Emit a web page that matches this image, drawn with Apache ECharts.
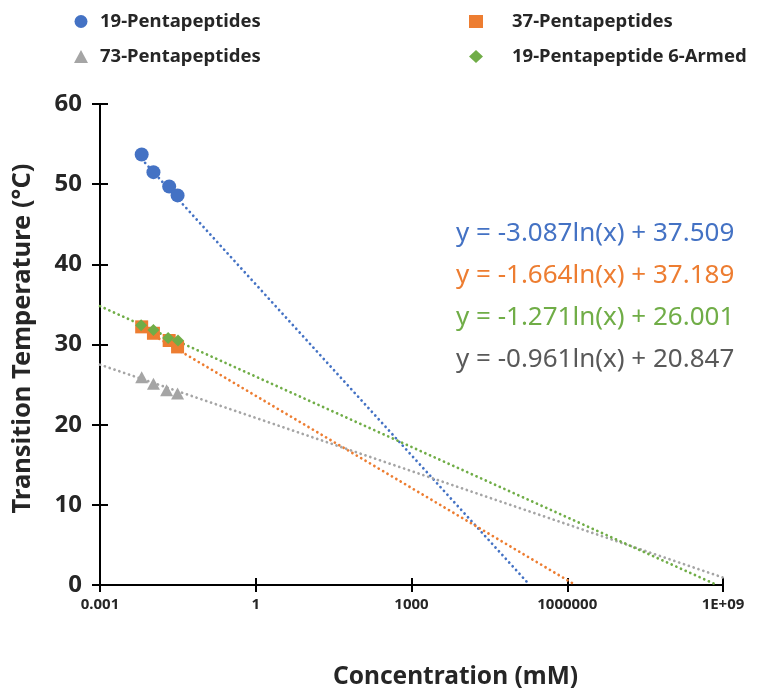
<!DOCTYPE html>
<html>
<head>
<meta charset="utf-8">
<script src="https://cdn.jsdelivr.net/npm/echarts@6/dist/echarts.min.js"></script>
<style>
  html, body { margin: 0; padding: 0; background: #fff; }
  #chart { width: 774px; height: 690px; }
</style>
</head>
<body>
<div id="chart"></div>
<script>
// Measured transition temperatures (°C) against concentration (mM)
const seriesNames = ['19-Pentapeptides', '37-Pentapeptides', '73-Pentapeptides', '19-Pentapeptide 6-Armed'];
const colors = ['#4472C4', '#ED7D31', '#A5A5A5', '#70AD47'];
const symbols = ['circle', 'rect', 'triangle', 'diamond'];

const conc19 = [0.00635, 0.0107, 0.0215, 0.0312];
const temp19 = [53.7, 51.5, 49.7, 48.6];

const conc37 = [0.00635, 0.0107, 0.0215, 0.0312];
const temp37 = [32.2, 31.4, 30.5, 29.7];

const conc73 = [0.00635, 0.0107, 0.0192, 0.0312];
const temp73 = [25.9, 25.1, 24.3, 23.9];

const conc19x6 = [0.0062, 0.0107, 0.0205, 0.0318];
const temp19x6 = [32.4, 31.8, 30.8, 30.5];

// Logarithmic trend lines y = a·ln(x) + b, extended to the axis limits
const trendSlope = [-3.087, -1.664, -0.961, -1.271];
const trendIntercept = [37.509, 23.6, 20.847, 26.001];
const trendStart = [0.00635, 0.00635, 0.001, 0.001];
const trendLabels = [
  'y = -3.087ln(x) + 37.509',
  'y = -1.664ln(x) + 37.189',
  'y = -1.271ln(x) + 26.001',
  'y = -0.961ln(x) + 20.847'
];
const trendLabelColors = ['#4472C4', '#ED7D31', '#70AD47', '#595959'];

// Axis ticks
const xTickLabels = { '-3': '0.001', '0': '1', '3': '1000', '6': '1000000', '9': '1E+09' };
const xMin = 0.001, xMax = 1e9;
const yMin = 0, yMax = 60, yStep = 10;

const points = [
  conc19.map((c, i) => [c, temp19[i]]),
  conc37.map((c, i) => [c, temp37[i]]),
  conc73.map((c, i) => [c, temp73[i]]),
  conc19x6.map((c, i) => [c, temp19x6[i]])
];

function trendEnds(k) {
  const a = trendSlope[k], b = trendIntercept[k];
  const x0 = trendStart[k];
  let x1 = Math.exp(-b / a);      // where the fit reaches 0 °C
  if (x1 > xMax) x1 = xMax;
  return [[x0, a * Math.log(x0) + b], [x1, a * Math.log(x1) + b]];
}

const FONT = 'Noto Sans';
const chart = echarts.init(document.getElementById('chart'), null, { renderer: 'canvas' });

const grid = { left: 100, right: 51, top: 104, bottom: 105, outerBoundsMode: 'none', containLabel: false };

const trendSeries = [0, 1, 2, 3].map(k => ({
  name: 'trend' + k,
  type: 'line',
  data: trendEnds(k),
  symbol: 'none',
  silent: true,
  z: 1,
  lineStyle: { color: colors[k], width: 2.7, type: [0.1, 5], cap: 'round' }
}));

// draw order: triangles, circles, squares, then diamonds on top
const scatterOrder = [2, 0, 1, 3];
const symSize = [14, 13, [13, 12], 12];
const scatterSeries = scatterOrder.map(k => ({
  name: seriesNames[k],
  type: 'scatter',
  data: points[k],
  symbol: symbols[k],
  symbolSize: symSize[k],
  z: 3,
  itemStyle: { color: colors[k], opacity: 1 }
}));

const legendText = { fontFamily: FONT, fontWeight: 'bold', fontSize: 18.5, color: '#262626', padding: [0, 0, 0, 7] };

chart.setOption({
  animation: false,
  backgroundColor: '#ffffff',
  grid: grid,
  legend: [
    {
      left: 69, top: 7, orient: 'vertical', itemGap: 16,
      itemWidth: 14, itemHeight: 13,
      data: [
        { name: seriesNames[0], icon: 'circle' },
        { name: seriesNames[2], icon: 'triangle' }
      ],
      textStyle: legendText
    },
    {
      left: 464, top: 7, orient: 'vertical', itemGap: 16,
      itemWidth: 14, itemHeight: 13,
      data: [
        { name: seriesNames[1], icon: 'rect' },
        { name: seriesNames[3], icon: 'diamond' }
      ],
      textStyle: Object.assign({}, legendText, { padding: [0, 0, 0, 24] })
    }
  ],
  xAxis: [
    {
      type: 'log', logBase: 10, min: xMin, max: xMax, interval: 3,
      name: 'Concentration (mM)', nameLocation: 'middle', nameGap: 80,
      nameTextStyle: { fontFamily: FONT, fontWeight: 'bold', fontSize: 24.5, color: '#262626', padding: [0, 0, 0, 88] },
      axisLine: { lineStyle: { color: '#000', width: 2 } },
      axisTick: { show: true, length: 7, lineStyle: { color: '#000', width: 2 } },
      splitLine: { show: false },
      minorTick: { show: false },
      axisLabel: {
        margin: 12, fontFamily: FONT, fontWeight: 'bold', fontSize: 15, color: '#262626',
        formatter: v => xTickLabels[String(Math.round(Math.log10(v)))] || ''
      }
    },
    {
      type: 'log', logBase: 10, min: xMin, max: xMax, interval: 3, position: 'bottom',
      axisLine: { show: false },
      axisTick: { show: true, inside: true, length: 7, lineStyle: { color: '#000', width: 2 } },
      axisLabel: { show: false }, splitLine: { show: false }
    }
  ],
  yAxis: [
    {
      type: 'value', min: yMin, max: yMax, interval: yStep,
      name: 'Transition Temperature (°C)', nameLocation: 'middle', nameGap: 64,
      nameTextStyle: { fontFamily: FONT, fontWeight: 'bold', fontSize: 25.5, color: '#262626', padding: [0, 0, 0, 12] },
      axisLine: { show: true, lineStyle: { color: '#000', width: 2 } },
      axisTick: { show: true, length: 8, lineStyle: { color: '#000', width: 2 } },
      splitLine: { show: false },
      axisLabel: { margin: 18, fontFamily: FONT, fontWeight: 'bold', fontSize: 24, color: '#262626' }
    },
    {
      type: 'value', min: yMin, max: yMax, interval: yStep, position: 'left',
      axisLine: { show: false },
      axisTick: { show: true, inside: true, length: 8, lineStyle: { color: '#000', width: 2 } },
      axisLabel: { show: false }, splitLine: { show: false }
    }
  ],
  graphic: trendLabels.map((t, i) => ({
    type: 'text',
    left: 456,
    top: 221 + i * 42,
    silent: true,
    style: { text: t, fill: trendLabelColors[i], font: '26px "Noto Sans"' }
  })),
  series: trendSeries.concat(scatterSeries)
});
</script>
</body>
</html>
